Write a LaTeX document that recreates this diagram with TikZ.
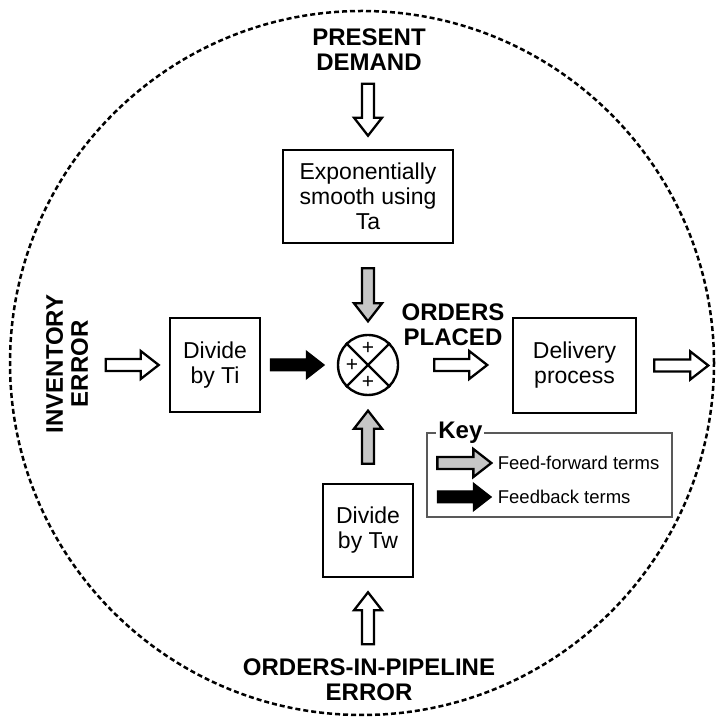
\documentclass[tikz,border=0pt]{standalone}
\usepackage{fontspec}
\setmainfont{Liberation Sans}
\usepackage{tikz}
\usetikzlibrary{calc}

% block arrow: style, start point, direction, length
\newcommand{\fatarrow}[4]{%
  \begin{scope}[shift={#2},rotate=#3]
    \draw[#1] (0,-6) -- (#4-18,-6) -- (#4-18,-14) -- (#4,0) -- (#4-18,14) -- (#4-18,6) -- (0,6) -- cycle;
  \end{scope}}

\begin{document}
\begin{tikzpicture}[x=1pt,y=1pt,
    blockbox/.style={draw,line width=2.6pt,align=center,inner sep=2pt,
      font=\fontsize{23}{25}\selectfont},
    lbl/.style={align=center,font=\fontsize{24}{25}\selectfont\bfseries},
    plus/.style={inner sep=0,font=\fontsize{21}{21}\selectfont},
    openarr/.style={draw,fill=white,line width=2.3pt,line join=miter},
    grayarr/.style={draw,fill=gray!45,line width=2.3pt,line join=miter},
    blackarr/.style={draw,fill=black,line width=1pt,line join=miter},
    keytext/.style={anchor=west,font=\fontsize{18.5}{20}\selectfont}]
  \useasboundingbox (0,0) rectangle (716,720);
  \draw[line width=2.5pt,dash pattern=on 5pt off 3pt] (362,357) circle (352);

  \node[blockbox,minimum width=170,minimum height=93] (ex) at (368,523.5) {Exponentially\\smooth using\\Ta};
  \node[blockbox,minimum width=90,minimum height=94] (ti) at (215,355) {Divide\\by Ti};
  \node[blockbox,minimum width=123,minimum height=95] (dp) at (574.5,354.5) {Delivery\\process};
  \node[blockbox,minimum width=90,minimum height=93] (tw) at (368,189.5) {Divide\\by Tw};
  \node[draw,circle,line width=2.4pt,minimum size=60,inner sep=0] (sum) at (368,355) {};
  \draw[line width=2.4pt] (sum.north west) -- (sum.south east);
  \draw[line width=2.4pt] (sum.north east) -- (sum.south west);
  \node[plus] (pt) at ($(sum.center)+(0,17)$) {+};
  \node[plus] (pl) at ($(sum.center)+(-16,0)$) {+};
  \node[plus] (pb) at ($(sum.center)+(0,-17)$) {+};

  \node[lbl] (pd) at (369,670.5) {PRESENT\\DEMAND};
  \node[lbl,rotate=90] (ie) at (67,356) {INVENTORY\\ERROR};
  \node[lbl] (op) at (453,395) {ORDERS\\PLACED};
  \node[lbl] (pe) at (369,40) {ORDERS-IN-PIPELINE\\ERROR};

  \fatarrow{openarr}{($(ex.north)+(0,65)$)}{-90}{52}
  \fatarrow{grayarr}{($(ex.south)+(0,-24)$)}{-90}{53}
  \fatarrow{grayarr}{($(tw.north)+(0,19)$)}{90}{53}
  \fatarrow{openarr}{($(tw.south)+(0,-66)$)}{90}{52}
  \fatarrow{openarr}{($(ti.west)+(-63,0)$)}{0}{53}
  \fatarrow{blackarr}{($(ti.east)+(9,0)$)}{0}{54}
  \fatarrow{openarr}{($(sum.east)+(35,0)$)}{0}{53}
  \fatarrow{openarr}{($(dp.east)+(17,0)$)}{0}{54}

  % key
  \node[draw=black!65,line width=1.3pt,minimum width=245,minimum height=84] (keybox) at (549.5,245) {};
  \node[lbl,fill=white,inner sep=2pt] (key) at ($(keybox.north west)+(34,0)$) {Key};
  \fatarrow{grayarr}{($(keybox.west)+(11,12)$)}{0}{54}
  \fatarrow{blackarr}{($(keybox.west)+(11,-22)$)}{0}{54}
  \node[keytext] (ff) at ($(keybox.west)+(68,12)$) {Feed-forward terms};
  \node[keytext] (fb) at ($(keybox.west)+(68,-22)$) {Feedback terms};
\end{tikzpicture}
\end{document}
